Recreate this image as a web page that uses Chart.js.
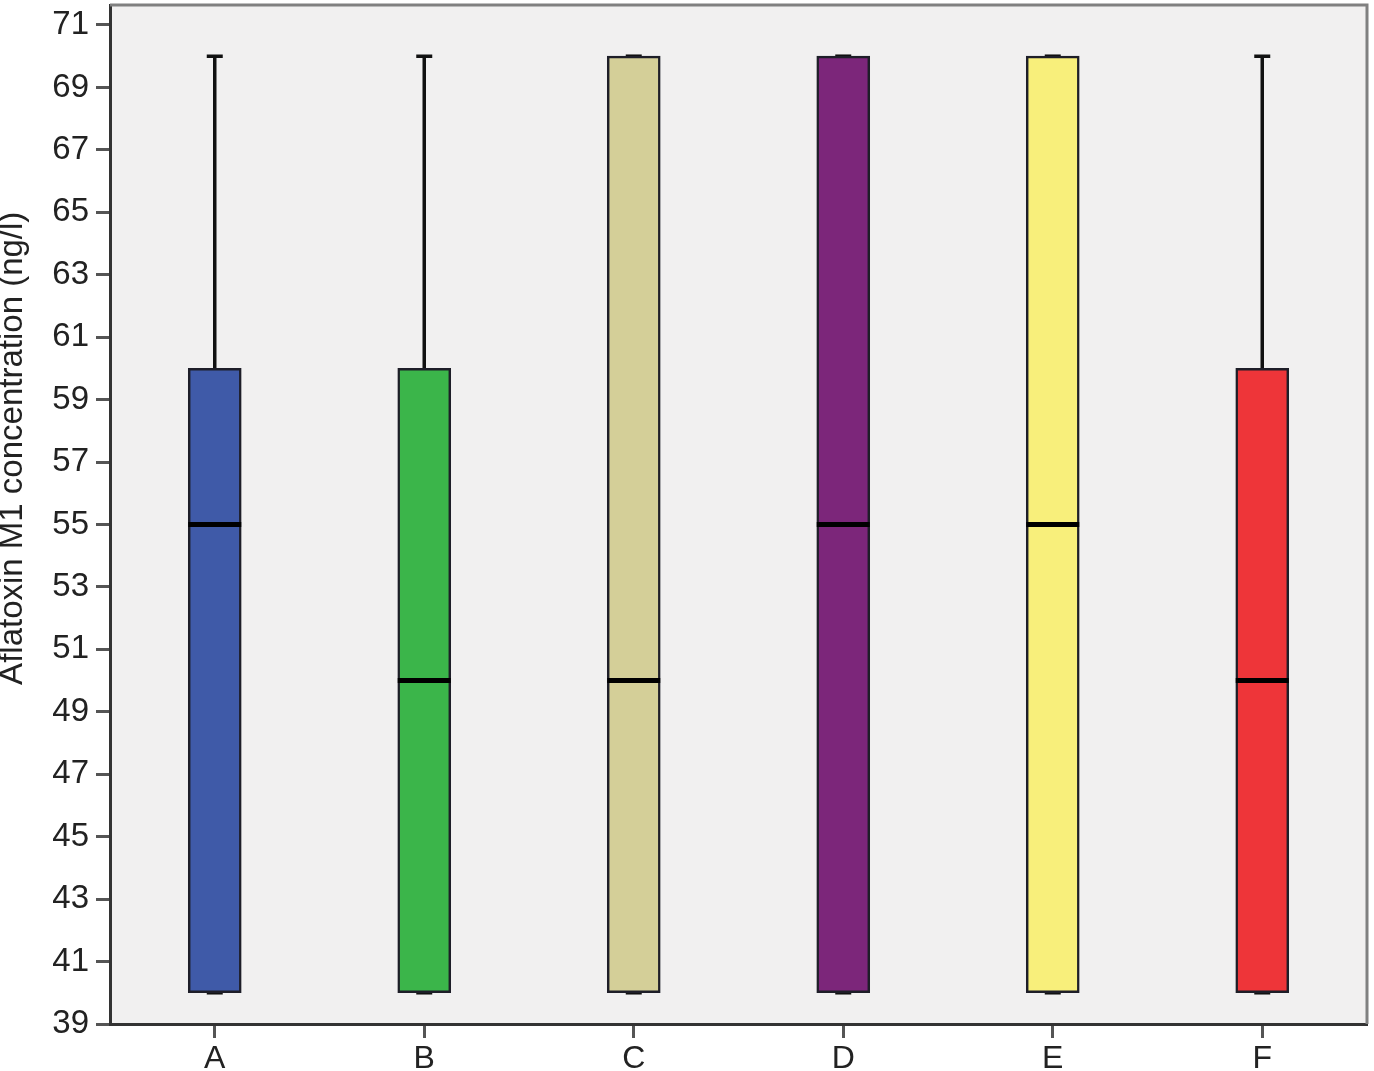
<!DOCTYPE html>
<html>
<head>
<meta charset="utf-8">
<script src="https://cdn.jsdelivr.net/npm/chart.js@4/dist/chart.umd.min.js"></script>
<style>
  html, body { margin: 0; padding: 0; background: #fff; }
  #wrap { width: 1374px; height: 1071px; }
</style>
</head>
<body>
<div id="wrap"><canvas id="box"></canvas></div>
<script>
const categories = ['A', 'B', 'C', 'D', 'E', 'F'];
const whiskerLow = [40, 40, 40, 40, 40, 40];
const q1 = [40, 40, 40, 40, 40, 40];
const medians = [55, 50, 50, 55, 55, 50];
const q3 = [60, 60, 70, 70, 70, 60];
const whiskerHigh = [70, 70, 70, 70, 70, 70];
const yTicks = [39, 41, 43, 45, 47, 49, 51, 53, 55, 57, 59, 61, 63, 65, 67, 69, 71];
const yTitle = 'Aflatoxin M1 concentration (ng/l)';

const boxColors = ['#3f5aa8', '#3bb54a', '#d4cf98', '#7c267a', '#f8ef7b', '#ee3539'];
const fontFamily = 'Liberation Sans, Arial, sans-serif';

/* plot background, top/right frame, y title */
const frame = {
    id: 'frame',
    beforeDraw(chart) {
        const { ctx, chartArea: a } = chart;
        ctx.save();
        ctx.fillStyle = '#f1f0f0';
        ctx.fillRect(a.left, a.top, a.right - a.left, a.bottom - a.top);
        ctx.restore();
    },
    afterDraw(chart) {
        const { ctx, chartArea: a } = chart;
        ctx.save();
        ctx.strokeStyle = '#808080';
        ctx.lineWidth = 3;
        ctx.beginPath();
        ctx.moveTo(a.left, a.top);
        ctx.lineTo(a.right, a.top);
        ctx.lineTo(a.right, a.bottom);
        ctx.stroke();

        // axis title sits a bit above the middle, as in the original
        ctx.translate(13, a.top + (a.bottom - a.top) * 0.435);
        ctx.rotate(-Math.PI / 2);
        ctx.fillStyle = '#222';
        ctx.font = '33px ' + fontFamily;
        ctx.textAlign = 'center';
        ctx.textBaseline = 'middle';
        ctx.fillText(yTitle, 0, 0);
        ctx.restore();
    }
};

/* whiskers behind boxes, medians on top */
const boxParts = {
    id: 'boxParts',
    beforeDatasetsDraw(chart) {
        const { ctx, scales: { x, y } } = chart;
        ctx.save();
        ctx.strokeStyle = '#111';
        ctx.lineWidth = 3.5;
        categories.forEach((c, i) => {
            const cx = x.getPixelForValue(i);
            [[whiskerLow[i], q1[i]], [whiskerHigh[i], q3[i]]].forEach(([end, edge]) => {
                const ye = y.getPixelForValue(end);
                ctx.beginPath();
                ctx.moveTo(cx, ye);
                ctx.lineTo(cx, y.getPixelForValue(edge));
                ctx.moveTo(cx - 8, ye);
                ctx.lineTo(cx + 8, ye);
                ctx.stroke();
            });
        });
        ctx.restore();
    },
    afterDatasetsDraw(chart) {
        const { ctx, scales: { y } } = chart;
        const meta = chart.getDatasetMeta(0);
        ctx.save();
        ctx.strokeStyle = '#000';
        ctx.lineWidth = 5;
        meta.data.forEach((bar, i) => {
            const ym = y.getPixelForValue(medians[i]);
            ctx.beginPath();
            ctx.moveTo(bar.x - bar.width / 2, ym);
            ctx.lineTo(bar.x + bar.width / 2, ym);
            ctx.stroke();
        });
        ctx.restore();
    }
};

new Chart(document.getElementById('box'), {
    type: 'bar',
    data: {
        labels: categories,
        datasets: [{
            data: categories.map((c, i) => [q1[i], q3[i]]),
            backgroundColor: boxColors,
            borderColor: '#1e1e28',
            borderWidth: 2.5,
            borderSkipped: false,
            barThickness: 53
        }]
    },
    options: {
        responsive: true,
        maintainAspectRatio: false,
        animation: false,
        layout: { padding: { top: 5, right: 7, left: 0, bottom: 0 } },
        scales: {
            x: {
                offset: true,
                grid: {
                    display: true,
                    drawOnChartArea: false,
                    drawTicks: true,
                    tickLength: 14,
                    tickWidth: 3,
                    tickColor: '#555',
                    offset: false
                },
                border: { color: '#333', width: 3 },
                ticks: {
                    color: '#222',
                    padding: 2,
                    font: { family: fontFamily, size: 32 }
                },
                afterFit(scale) {
                    scale.height = 47;
                    scale.paddingLeft = 0;
                    scale.paddingRight = 0;
                }
            },
            y: {
                min: 39,
                max: 71.64,
                afterBuildTicks(scale) {
                    scale.ticks = yTicks.map(v => ({ value: v }));
                },
                grid: {
                    drawOnChartArea: false,
                    drawTicks: true,
                    tickLength: 14,
                    tickWidth: 3,
                    tickColor: '#555'
                },
                border: { color: '#333', width: 3 },
                ticks: {
                    color: '#222',
                    padding: 7,
                    font: { family: fontFamily, size: 33 }
                },
                afterFit(scale) {
                    scale.width = 110;
                    scale.paddingTop = 0;
                    scale.paddingBottom = 0;
                }
            }
        },
        plugins: {
            legend: { display: false },
            tooltip: { enabled: false }
        }
    },
    plugins: [frame, boxParts]
});
</script>
</body>
</html>
